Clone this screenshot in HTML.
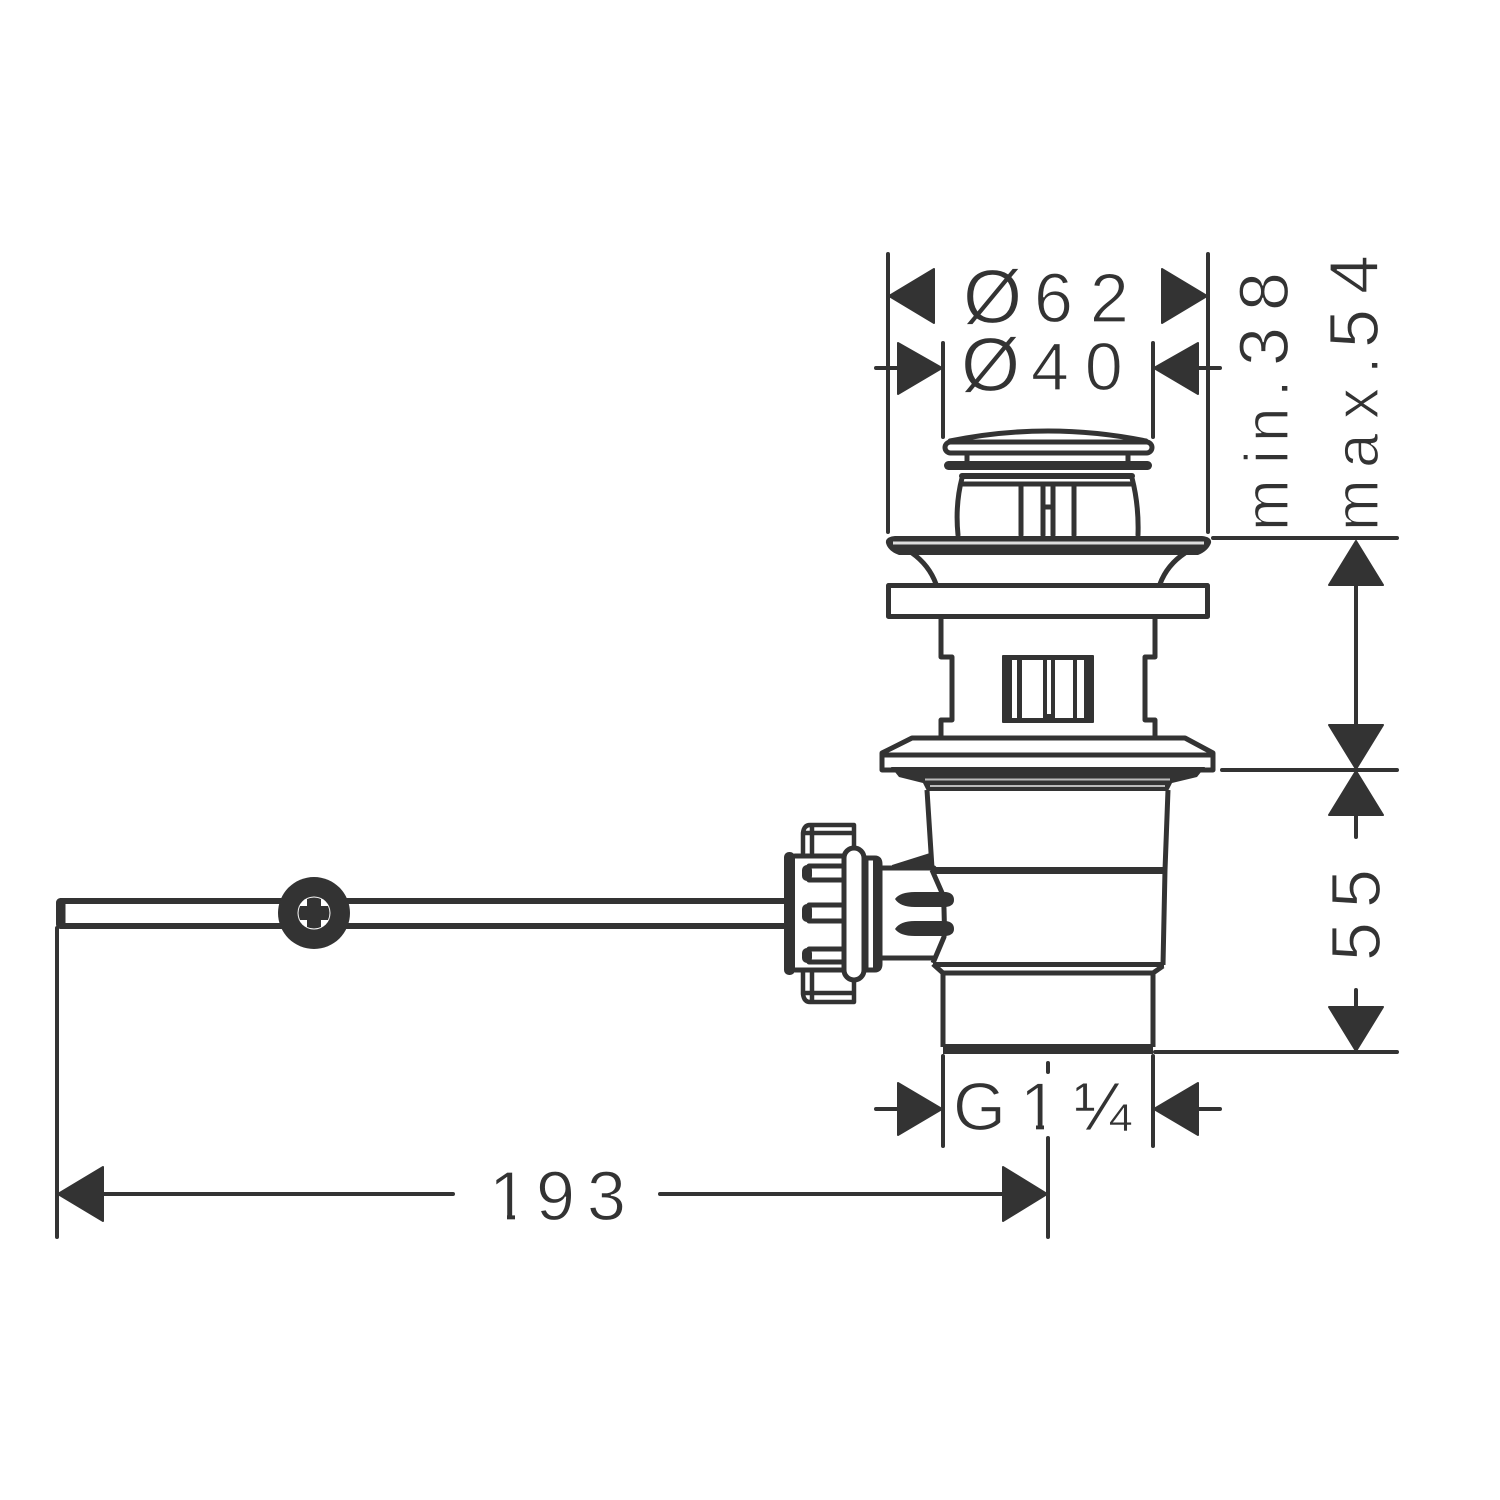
<!DOCTYPE html>
<html><head><meta charset="utf-8"><style>
html,body{margin:0;padding:0;background:#fff}
svg{display:block}
text{font-family:"Liberation Sans",sans-serif;fill:#333;stroke:#fff;stroke-width:1.2}
</style></head><body>
<svg width="1500" height="1500" viewBox="0 0 1500 1500" xmlns="http://www.w3.org/2000/svg">
<rect width="1500" height="1500" fill="#fff"/>
<g fill="none" stroke="#333" stroke-width="4" stroke-linecap="round" stroke-linejoin="round">
<!-- dimension lines -->
<path d="M888 254V532M1208 254V532M943 343V437M1153 343V437M876 368H898M1198 368H1220"/>
<path d="M1213 538H1397M1222 770H1397M1155 1052H1397M1356 585V725M1356 815V837M1356 990V1007"/>
<path d="M876 1109H898M1198 1109H1220M943 1056V1146M1153 1056V1146M1048 1063V1072M1048 1138V1237"/>
<path d="M57 928V1237M104 1194H453M660 1194H1003"/>
</g>
<g fill="#333" stroke="#333" stroke-width="2" stroke-linejoin="round">
<path d="M889 296L934 269V323ZM1207 296L1162 269V323Z"/>
<path d="M942 368L898 343V394ZM1154 368L1198 343V394Z"/>
<path d="M1356 541L1383 585H1329ZM1356 769L1383 725H1329ZM1356 771L1383 815H1329ZM1356 1051L1383 1007H1329Z"/>
<path d="M942 1109L898 1083V1135ZM1154 1109L1198 1083V1135Z"/>
<path d="M58 1194L103 1167V1221ZM1047 1194L1003 1167V1221Z"/>
</g>
<!-- drain top -->
<g fill="none" stroke="#333" stroke-width="5" stroke-linejoin="round" stroke-linecap="round">
<path d="M950 441Q1048 421 1146 441"/>
<rect x="945" y="442" width="207" height="11" rx="5.5" fill="#fff"/>
<path d="M967 453V462M1128 453V462"/>
<path d="M962 476H1132" stroke-width="6"/>
<path d="M962 478Q955 505 958 535M1132 478Q1139 505 1138 535"/>
<path d="M962 484H1132"/>
<path d="M1021 485V535M1043 485V535M1053 485V535M1074 485V535M1043 507H1053"/>
</g>
<rect x="944" y="461" width="208" height="9" rx="4.5" fill="#333"/>
<!-- flange -->
<path d="M895 536H1202Q1212 537 1211 543Q1208 551 1198 555H899Q888 551 886 543Q885 537 895 536Z" fill="#333"/>
<rect x="893" y="541.5" width="311" height="3" fill="#ddd"/>
<g fill="none" stroke="#333" stroke-width="5" stroke-linejoin="round">
<path d="M912 553Q929 565 936 584M1185 553Q1167 565 1160 584"/>
<rect x="888.5" y="585.5" width="319" height="31"/>
<path d="M941 617V657H952V720H941V738M1155 617V657H1145V720H1155V738"/>
<path d="M912 738H1185L1213 753V770H882V753Z" fill="#fff"/>
<path d="M882 755H1213" />
</g>
<!-- window -->
<rect x="1002" y="655" width="92" height="68" rx="1" fill="#333"/>
<g fill="#fff">
<rect x="1012" y="660" width="5" height="58"/>
<rect x="1022" y="660" width="21" height="58"/>
<rect x="1047" y="660" width="4" height="54"/>
<rect x="1055" y="660" width="18" height="58"/>
<rect x="1077" y="660" width="7" height="58"/>
</g>
<!-- collar underside -->
<path d="M891 767H1205L1197 777L1172 783L1168 791H927L923 783L899 777Z" fill="#333"/>
<rect x="925" y="778.5" width="245" height="2" fill="#bbb"/>
<rect x="930" y="785" width="235" height="2" fill="#bbb"/>
<!-- body -->
<g fill="none" stroke="#333" stroke-width="5" stroke-linejoin="round">
<path d="M927 790L932 868M1168 790L1165 870L1163 965"/>
<path d="M932 870.5H1165" stroke-width="7"/>
<path d="M932 870L943 895Q945 915 944 937L933 963"/>
<path d="M933 964.5H1164"/>
<path d="M933 964L943 973H1153L1163 966"/>
<path d="M943 973V1047M1153 973V1047"/>
<path d="M943 1049H1153" stroke-width="10"/>
</g>
<!-- side fitting -->
<path d="M892 865L930 853L934 870H892Z" fill="#333"/>
<g fill="none" stroke="#333" stroke-width="5" stroke-linejoin="round" stroke-linecap="round">
<path d="M882 868H934M882 958H934"/>
<path d="M866 858H875Q880 858 880 864V964Q880 970 875 970H866"/>
<path d="M866 858V970"/>
<path d="M803 853V833Q804 825 810 825H854V847M803 833H852M812 825V853" stroke-width="4.5"/>
<path d="M803 970V994Q804 1002 810 1002H854V982M803 993H852M812 1002V970" stroke-width="4.5"/>
<path d="M795 856H845M795 970H845"/>
<path d="M844 866H809Q804 872 809 880H844M844 905H809Q804 913 809 921H844M844 949H809Q804 955 809 962H844"/>
</g>
<path d="M873 858H881V970H873Z" fill="#333"/>
<rect x="844" y="848" width="20" height="132" rx="10" fill="#fff" stroke="#333" stroke-width="5"/>
<rect x="784" y="852" width="11" height="123" rx="5" fill="#333"/>
<rect x="802" y="865" width="10" height="16" rx="5" fill="#333"/>
<rect x="802" y="904" width="10" height="18" rx="5" fill="#333"/>
<rect x="802" y="948" width="10" height="15" rx="5" fill="#333"/>
<path d="M895 899Q900 892 915 892H946Q954 893 954 900Q954 906 946 907H915Q900 907 895 899ZM895 929Q900 921 915 921H946Q954 922 954 929Q954 935 946 936H915Q900 936 895 929Z" fill="#333"/>
<!-- rod -->
<path d="M60 901H784M60 926H784" stroke="#333" stroke-width="6" fill="none"/>
<rect x="56" y="898" width="9.5" height="31" rx="4.5" fill="#333"/>
<circle cx="314" cy="913" r="36" fill="#333"/>
<circle cx="314" cy="913" r="16.5" fill="#fff"/>
<path d="M307 899Q314 896 321 899V906H328Q331 913 328 920H321V927Q314 930 307 927V920H300Q297 913 300 906H307Z" fill="#333"/>
<!-- labels -->
<text x="963" y="323" font-size="76">Ø</text>
<text x="1034" y="322" font-size="70" letter-spacing="17">62</text>
<text x="961" y="391" font-size="76">Ø</text>
<text x="1031" y="390" font-size="68" letter-spacing="16">40</text>
<text x="953" y="1130" font-size="68">G</text>
<text x="1020" y="1130" font-size="68">1</text>
<rect x="1022" y="1122" width="14" height="10" fill="#fff"/>
<rect x="1044" y="1122" width="14" height="10" fill="#fff"/>
<text x="1074" y="1130" font-size="68" style="stroke-width:.5">¼</text>
<text x="489" y="1220" font-size="70">1</text>
<rect x="491" y="1212" width="16" height="10" fill="#fff"/>
<rect x="515" y="1212" width="16" height="10" fill="#fff"/>
<text x="536" y="1220" font-size="70">9</text>
<text x="587" y="1220" font-size="70">3</text>
<text transform="translate(1288 527) rotate(-90)" font-size="70"><tspan x="-4" font-size="62">m</tspan><tspan x="63" font-size="62">i</tspan><tspan x="85" font-size="62">n</tspan><tspan x="130" font-size="62">.</tspan><tspan x="161">3</tspan><tspan x="216">8</tspan></text>
<text transform="translate(1378 527) rotate(-90)" font-size="70"><tspan x="-4" font-size="62">m</tspan><tspan x="59" font-size="62">a</tspan><tspan x="108" font-size="62">x</tspan><tspan x="153" font-size="62">.</tspan><tspan x="179">5</tspan><tspan x="233">4</tspan></text>
<text transform="translate(1380 958) rotate(-90)" font-size="70"><tspan x="-3">5</tspan><tspan x="50">5</tspan></text>
</svg>
</body></html>
